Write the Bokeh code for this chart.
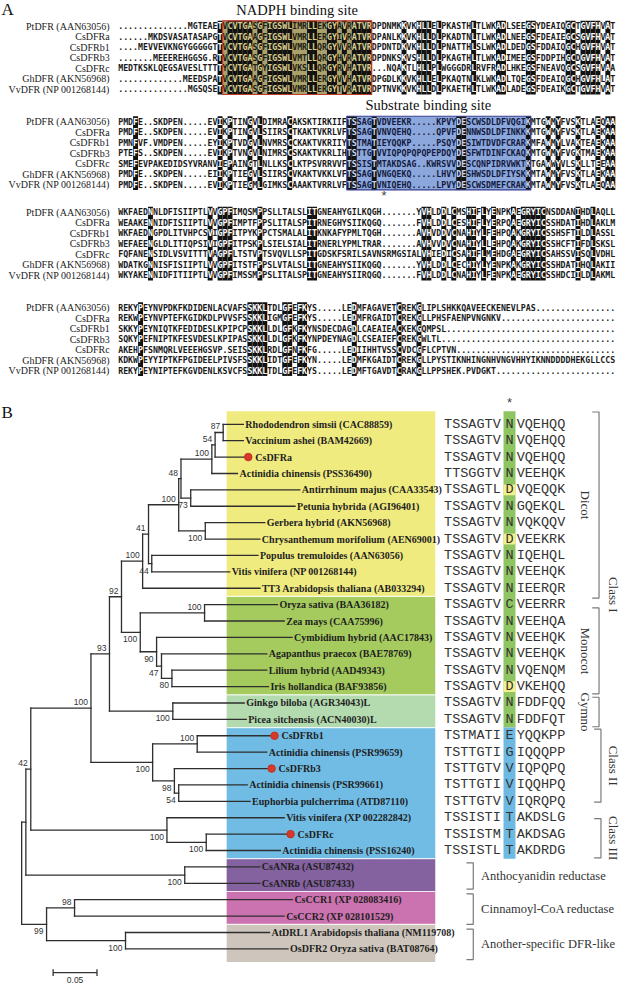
import math
from bokeh.plotting import figure
from bokeh.models import Range1d
from bokeh.core.properties import value
from bokeh.embed import file_html
from bokeh.resources import INLINE

# ===================== Panel A data: DFR alignment =====================
seq_names = ["PtDFR (AAN63056)", "CsDFRa", "CsDFRb1", "CsDFRb3", "CsDFRc",
             "GhDFR (AKN56968)", "VvDFR (NP 001268144)"]

block1 = [
    "..............MGTEAETVCVTGASGFIGSWLIMRLLEKGYAVRATVRDPDNMKKVKHLLELPKASTHLTLWKADLSEEGSYDEAIQGCTGVFHVAT",
    "......MKDSVASATASAPGTVCVTGAAGFIGSWLVMRLLERGYIVRATVRDPANLKKVKHLLDLPKADTNLTLWKADLNEEGSFDEAIEGCSGVFHVAT",
    "....MEVVEVKNGYGGGGGTTVCVTGASGFIGSWLVMRLLQRGYVVRATVRDPDNTDKVKHLLDLPNATTHLSLWKADLDEDGSFDDAIQGCHGVFHVAT",
    ".......MEEEREHGGSG.RTVCVTGASGFIGSWLVMTLLQRGYHVRATVRDPDNKSKVSHLLDLPKAGTHLTLWKADIMEEGSFDDPIHGCDGVFHVAT",
    "MEDTKSKLQEGSAVESLTTTTYCVTGATGYIGSWLVKSLLQRGYRVHATVR...NQAKTLHLLPLWGGGDRLRVFRADLHKEGSFNEAVQGCSGVFHVAA",
    ".............MEEDSPATVCVTGAAGFIGSWLVMRLLERGYVVHATVRDPGDLKKVKHLLELPKAQTNLKLWKADLTQEGSFDEAIQGCHGVFHLAT",
    "..............MGSQSETVCVTGASGFIGSWLVMRLLERGYTVRATVRDPTNVKKVKHLLDLPKAETHLTLWKADLADEGSFDEAIKGCTGVFHVAT",
]
block2 = [
    "PMDFE..SKDPEN.....EVIKPTINGVLDIMRACAKS" + "KTIRKIIFTSSAGTVDVEEKR.....KPVYDESCWSDLDFVQGIKMTGWMYFVSKTLAEQAA",
    "PMDFE..SKDPEN.....EVIKPTINGVLSIIRSCTKA" + "KTVKRLVFTSSAGTVNVQEHQ.....QPVFDENNWSDLDFINKKKMTGWMYFVSKTLAEKAA",
    "PMNFVF.VMDPEN.....EYIKPTVDGVLNVMRSCCKA" + "KTVKRIIYTSTMATIEYQQKP.....PSQYDESIWTDVDFCRARKMFAWMYLVAKTEAEKAA",
    "PTEFS..SKDPEN.....EVIKPTVNGVLNIMRSCSKA" + "KTVKRLIHTSTTGTVVIQPQPQPQPEPDQYDESFWTDINFCKAQKMTGWMYFVGKTMAEKAA",
    "SMEFEVPAKEDIDSYVRANVIEPAINGTLNLLKSCLKT" + "PSVRRVVFTSSISTMTAKDSAG..KWRSVVDESCQNPIDRVWKTKTGAWWYVLSKLLTEEAA",
    "PMDFE..SKDPEN.....EIIKPTIEGVLSIIRSCVKA" + "KTVKKLVFTSSAGTVNGQEKQ.....LHVYDESHWSDLDFIYSKKMTAWMYFVSKTLAEKAA",
    "PMDFE..SKDPEN.....EVIKPTIEGMLGIMKSCAAA" + "KTVRRLVFTSSAGTVNIQEHQ.....LPVYDESCWSDMEFCRAKKMTAWMYFVSKTLAEQAA",
]
block3 = [
    "WKFAEDNNLDFISIIPTLVVGPFIMQSMPPSLLTALSL" + "ITGNEAHYGILKQGH.......YVHLDDLCMSHIFLYENPKAEGRYICNSDDANIHDLAQLL",
    "WEAAKENNIDFISIIPTLVVGPFIMPTFPPSLITALSP" + "ITRNEGHYSIIKQGQ.......FVHLDDLCESHIFLYERPQAEGRYICSSHDATIHDLAKLM",
    "WKFAEDNGPDLITVHPCSVIGPFITPYKPPCTSMALAL" + "ITKNKAFYPMLTQGH.......AVHVDDVCNAHIYLFEHPQAKGRYICSSHSFTILDLASSL",
    "WEFAEENGLDLITIQPSIVIGPFITPSKPLSIELSIAL" + "ITRNERLYPMLTRAR.......AVHVVDVCNAHIYLLEHPQAKGRYICSSHCFTIFDLSKSL",
    "FQFANENSIDLVSVITTTVAGPFLTSTVPTSVQVLLSP" + "ITGDSKFSRILSAVNSRMGSIALVHIEDICSAHIFLMEHDGAEGRYICSAHSSVISQLVDHL",
    "WDATKGNNISFISIIPTLVVGPFITSTFPPSLVTALSL" + "ITGNEAHYSIIKQGQ.......YVHLDDLCECHIYLYENPKAKGRYICSSHDATIHQLAKII",
    "WKYAKENNIDFITIIPTLVVGPFIMSSMPPSLITALSP" + "ITGNEAHYSIIRQGQ.......FVHLDDLCNAHIYLFENPKAEGRYICSSHDCIILDLAKML",
]
block4 = [
    "REKYPEYNVPDKFKDIDENLACVAFSSKKLTDLGFEFKYS.....LEDMFAGAVETCREKGLIPLSHKKQAVEECKENEVLPAS",
    "REKWPEYNVPTEFKGIDKDLPVVSFSSKKLIGMGFEFKYS.....LEDMFRGAIDTCREKGLLPHSFAENPVNGNKV",
    "SKKYPEYNIQTKFEDIDESLKPIPCPSKKLLDLGFKFKYNSDECDAGDLCAEAIEACKEKGQMPSL",
    "SQKYPEFNIPTKFESVDESLKPIPASSKKLLDLGFKFKYNPDEYNAGDLCSEAIEFCREKGWLTL",
    "AKEHPFSNMQRLVEEEHGSVP.SEISSKKLRDLGFNFKFG.....LEDIIHHTVSSCVDCGFLCPTVN",
    "KDKWPEYYIPTKFPGIDEELPIVSFSSKKLIDTGFEFKYN.....LEDMFKGAIDTCREKGLLPYSTIKNHINGNHVNGVHHYIKNNDDDDHEKGLLCCS",
    "REKYPEYNIPTEFKGVDENLKSVCFSSKKLTDLGFEFKYS.....LEDMFTGAVDTCRAKGLLPPSHEK.PVDGKT",
]
nadph_cols = (21, 50)        # NADPH binding site, block 1
substrate_cols = (46, 82)    # Substrate binding site, block 2
asterisk_col = 53

# ===================== Panel B data: phylogenetic tree =====================
leaf_labels = [
    "Rhododendron simsii (CAC88859)", "Vaccinium ashei (BAM42669)", "CsDFRa",
    "Actinidia chinensis (PSS36490)", "Antirrhinum majus (CAA33543)",
    "Petunia hybrida (AGI96401)", "Gerbera hybrid (AKN56968)",
    "Chrysanthemum morifolium (AEN69001)", "Populus tremuloides (AAN63056)",
    "Vitis vinifera (NP 001268144)", "TT3 Arabidopsis thaliana (AB033294)",
    "Oryza sativa (BAA36182)", "Zea mays (CAA75996)", "Cymbidium hybrid (AAC17843)",
    "Agapanthus praecox (BAE78769)", "Lilium hybrid (AAD49343)",
    "Iris hollandica (BAF93856)", "Ginkgo biloba (AGR34043)L",
    "Picea sitchensis (ACN40030)L", "CsDFRb1", "Actinidia chinensis (PSR99659)",
    "CsDFRb3", "Actinidia chinensis (PSR99661)", "Euphorbia pulcherrima (ATD87110)",
    "Vitis vinifera (XP 002282842)", "CsDFRc", "Actinidia chinensis (PSS16240)",
    "CsANRa (ASU87432)", "CsANRb (ASU87433)", "CsCCR1 (XP 028083416)",
    "CsCCR2 (XP 028101529)", "AtDRL1 Arabidopsis thaliana (NM119708)",
    "OsDFR2 Oryza sativa (BAT08764)",
]
tea_leaves = [2, 19, 21, 25]

def N(support, side, bl, *kids):
    return {"s": support, "side": side, "bl": bl, "kids": list(kids)}

def L(i, bl):
    return {"leaf": i, "s": None, "bl": bl, "kids": []}

tree = N(None, None, 0.0,
  N(None, None, 0.0048,
    N(42, "a", 0.0056,
      N(100, "a", 0.0686,
        N(93, "a", 0.0211,
          N(92, "a", 0.0137,
            N(100, "a", 0.0241,
              N(41, "a", 0.0067,
                N(100, "a", 0.0344,
                  N(48, "a", 0.0026,
                    N(100, "a", 0.0352,
                      N(54, "a", 0.0037,
                        N(87, "a", 0.0092, L(0, 0.0230), L(1, 0.0230)),
                        L(2, 0.0378)),
                      L(3, 0.0292)),
                    N(73, "b", 0.0111, L(4, 0.1244), L(5, 0.1189))),
                  N(100, "b", 0.0303, L(6, 0.0678), L(7, 0.0622))),
                N(44, "b", 0.0037, L(8, 0.1211), L(9, 0.0889))),
              L(10, 0.1337)),
            N(100, "b", 0.0214,
              N(100, "a", 0.0733, L(11, 0.0830), L(12, 0.0908)),
              N(90, "b", 0.0186,
                L(13, 0.1544),
                N(47, "b", 0.0056,
                  L(14, 0.1200),
                  N(80, "b", 0.0119, L(15, 0.1081), L(16, 0.1100)))))),
          N(100, "b", 0.0722, L(17, 0.0814), L(18, 0.0837))),
        N(100, "b", 0.0703,
          N(100, "a", 0.0508, L(19, 0.0881), L(20, 0.0792)),
          N(98, "b", 0.0248,
            L(21, 0.1108),
            N(54, "b", 0.0049, L(22, 0.0781), L(23, 0.0814))))),
      N(100, "b", 0.1552,
        L(24, 0.1337),
        N(100, "b", 0.0448, L(25, 0.0961), L(26, 0.0844)))),
    N(100, "b", 0.1811, L(27, 0.0856), L(28, 0.0856))),
  N(99, "b", 0.0284,
    N(98, "a", 0.0319, L(29, 0.2483), L(30, 0.2389)),
    N(100, "b", 0.0900, L(31, 0.1641), L(32, 0.1852))))

scale_bar_length = 0.05

band_first = [0, 11, 17, 19, 27, 29, 31]
band_last = [10, 16, 18, 26, 28, 30, 32]
band_colors = ["#f0eb7f", "#a5cb5f", "#b4dbb0", "#70bce4", "#84619f", "#cb73b0", "#cec6bc"]

motif_left = ["TSSAGTV", "TSSAGTV", "TSSAGTV", "TTSGGTV", "TSSAGTL", "TSSAGTV", "TSSAGTV",
              "TSSAGTV", "TSSAGTV", "TSSAGTV", "TSSAGTV", "TSSAGTV", "TSSAGTV", "TSSAGTV",
              "TSSAGTV", "TSSAGTV", "TSSAGTV", "TSSAGTV", "TSSAGTV", "TSTMATI", "TSTTGTI",
              "TSTTGTV", "TSTTGTI", "TSTTGTV", "TSSISTI", "TSSISTM", "TSSISTL"]
motif_key = ["N", "N", "N", "N", "D", "N", "N", "D", "N", "N", "N", "C", "N", "N",
             "N", "N", "D", "N", "N", "E", "G", "V", "V", "V", "T", "T", "T"]
motif_right = ["VQEHQQ", "VQEHQQ", "VQEHQQ", "VEEHQK", "VQEQQK", "GQEKQL", "VQKQQV",
               "VEEKRK", "IQEHQL", "VEEHQK", "IEERQR", "VEERRR", "VEEHQA", "VEEHQK",
               "VEEHQK", "VQENQM", "VKEHQQ", "FDDFQQ", "FDDFQT", "YQQKPP", "IQQQPP",
               "IQPQPQ", "IQQHPQ", "IQRQPQ", "AKDSLG", "AKDSAG", "AKDRDG"]

group_names = ["Dicot", "Monocot", "Gymno", "Class II", "Class III",
               "Anthocyanidin reductase", "Cinnamoyl-CoA reductase", "Another-specific DFR-like"]

# ===================== layout =====================
PAGE_W, PAGE_H = 619, 983
REF_W, REF_H = 635, 999
SEQ_X0, COL_W = 120.7, 5.1
BLOCK_Y = [26, 123, 215, 312]
ROW_H = 10.7
TREE_X0, PX_PER_UNIT = 21.7, 900.0
LEAF_Y0, LEAF_H = 430.7, 16.66
SX = PAGE_W / REF_W

p = figure(width=PAGE_W, height=PAGE_H, x_range=Range1d(0, REF_W), y_range=Range1d(REF_H, 0),
           x_axis_location=None, y_axis_location=None, output_backend="svg",
           toolbar_location=None, min_border=0)
p.outline_line_color = None
p.background_fill_color = "white"
p.border_fill_color = "white"
p.xgrid.visible = False
p.ygrid.visible = False
p.extra_x_ranges = {
    "col": Range1d((0 - SEQ_X0) / COL_W, (REF_W - SEQ_X0) / COL_W),
    "tree": Range1d((0 - TREE_X0) / PX_PER_UNIT, (REF_W - TREE_X0) / PX_PER_UNIT),
}
p.extra_y_ranges = {"leaf": Range1d((REF_H - LEAF_Y0) / LEAF_H, (0 - LEAF_Y0) / LEAF_H)}

serif = value("Liberation Serif")
sans = value("Liberation Sans")
mono = value("DejaVu Sans Mono")
seq_fs = "%.3fpx" % (COL_W * SX / 0.60205)

# ---------------- Panel A ----------------
p.text(x=[1], y=[9], text=["A"], text_font=serif, text_font_size="17px",
       text_color="#111", text_baseline="middle", text_align="left")

blocks = [block1, block2, block3, block4]
boxes = {0: (nadph_cols, "nadph"), 1: (substrate_cols, "sub")}
for b, blk in enumerate(blocks):
    rows = [(s + "." * 100)[:100] for s in blk]
    ncol = 100
    ys = [BLOCK_Y[b] + r * ROW_H for r in range(len(rows))]
    top, bot = ys[0] - ROW_H / 2, ys[-1] + ROW_H / 2
    ident = [len(set(r[c] for r in rows)) == 1 and rows[0][c] != "." for c in range(ncol)]
    box = boxes.get(b)
    if box:
        (c0, c1), kind = box
        p.quad(left=[c0], right=[c1 + 1], top=[top], bottom=[bot],
               fill_color="#aaa16c" if kind == "nadph" else "#8ba7dc",
               line_color=None, x_range_name="col")
    ic = [c for c in range(ncol) if ident[c]]
    p.quad(left=ic, right=[c + 1 for c in ic], top=[top] * len(ic), bottom=[bot] * len(ic),
           fill_color="#121212", line_color=None, x_range_name="col")

    def colour(c):
        inb = box is not None and box[0][0] <= c <= box[0][1]
        if inb and box[1] == "nadph":
            return "#dccf90" if ident[c] else "#1f1d10"
        if inb:
            return "#c9d5f2" if ident[c] else "#141a40"
        return "#ffffff" if ident[c] else "#1a1a1a"

    tx, ty, tt, tc = [], [], [], []
    for r, s in enumerate(rows):
        start = 0
        for c in range(1, ncol + 1):
            if c == ncol or colour(c) != colour(start):
                tx.append(start); ty.append(ys[r]); tt.append(s[start:c]); tc.append(colour(start))
                start = c
    p.text(x=tx, y=ty, text=tt, text_color=tc, text_font=mono, text_font_size=seq_fs,
           text_font_style="bold", text_align="left", text_baseline="middle", x_range_name="col")
    p.text(x=[112] * len(ys), y=ys, text=seq_names, text_font=serif, text_font_size="10px",
           text_color="#222", text_align="right", text_baseline="middle")
    if box:
        (c0, c1), kind = box
        p.quad(left=[c0], right=[c1 + 1], top=[top], bottom=[bot], fill_color=None,
               line_color="#c0392b" if kind == "nadph" else "#3b3f8f", line_width=1.2,
               x_range_name="col")
        title = "NADPH binding site" if kind == "nadph" else "Substrate binding site"
        tx_c = (c0 + c1 + 1) / 2 if kind == "nadph" else (c0 + c1 + 1) / 2 - 2.1
        p.text(x=[tx_c], y=[top - 11.5], text=[title], text_font=serif, text_font_size="14.5px",
               text_color="#111", text_align="center", text_baseline="middle", x_range_name="col")
        if kind == "sub":
            p.text(x=[asterisk_col + 0.5], y=[bot + 6], text=["*"], text_font=sans,
                   text_font_size="13px", text_color="#444", text_align="center",
                   text_baseline="middle", x_range_name="col")

# ---------------- Panel B ----------------
p.text(x=[1], y=[419], text=["B"], text_font=serif, text_font_size="17px",
       text_color="#111", text_baseline="middle", text_align="left")

BAND_X0, BAND_X1 = 232, 446
for i, (f, l, col) in enumerate(zip(band_first, band_last, band_colors)):
    t = f - 0.8 if i == 0 else f - 0.5
    bt = l + 0.8 if i == len(band_first) - 1 else l + 0.5
    p.quad(left=[BAND_X0], right=[BAND_X1], top=[t], bottom=[bt], fill_color=col,
           line_color=None, y_range_name="leaf")
sep_y = [l + 0.5 for l in band_last[:-1]]
p.multi_line(xs=[[BAND_X0, BAND_X1]] * len(sep_y), ys=[[y, y] for y in sep_y],
             line_color="white", line_width=1.2, line_alpha=0.8, y_range_name="leaf")

def lay(n, d):
    n["x"] = d + n["bl"]
    if n["kids"]:
        for k in n["kids"]:
            lay(k, n["x"])
        n["y"] = (n["kids"][0]["y"] + n["kids"][-1]["y"]) / 2
    else:
        n["y"] = n["leaf"]

lay(tree, 0.0)
seg_x, seg_y = [], []
sup = {"x": [], "y": [], "t": [], "off": []}
leaf_x = {}

def walk(n):
    if not n["kids"]:
        leaf_x[n["leaf"]] = n["x"]
        return
    seg_x.append([n["x"], n["x"]]); seg_y.append([n["kids"][0]["y"], n["kids"][-1]["y"]])
    for k in n["kids"]:
        seg_x.append([n["x"], k["x"]]); seg_y.append([k["y"], k["y"]])
        walk(k)
    if n["s"] is not None:
        sup["x"].append(n["x"]); sup["y"].append(n["y"]); sup["t"].append(str(n["s"]))
        sup["off"].append(-6 if n["side"] == "a" else 7)

walk(tree)
p.multi_line(xs=seg_x, ys=seg_y, line_color="#2e2e2e", line_width=1.3, line_cap="square",
             x_range_name="tree", y_range_name="leaf")
p.text(x=sup["x"], y=sup["y"], text=sup["t"], y_offset=sup["off"], x_offset=-3,
       text_font=sans, text_font_size="8.5px", text_color="#333", text_align="right",
       text_baseline="middle", x_range_name="tree", y_range_name="leaf")

li = list(range(len(leaf_labels)))
p.text(x=[leaf_x[i] for i in li], y=li, text=leaf_labels,
       x_offset=[7 if i in tea_leaves else 2 for i in li],
       text_font=serif, text_font_style="bold", text_font_size="10px", text_color="#1e1e1e",
       text_align="left", text_baseline="middle", x_range_name="tree", y_range_name="leaf")
p.scatter(x=[leaf_x[i] for i in tea_leaves], y=tea_leaves, size=7.5, fill_color="#d6392c",
          line_color="#c2301f", x_range_name="tree", y_range_name="leaf")

# scale bar
sb0 = (54 - TREE_X0) / PX_PER_UNIT
sby = 33.45
p.multi_line(xs=[[sb0, sb0 + scale_bar_length], [sb0, sb0], [sb0 + scale_bar_length] * 2],
             ys=[[sby, sby], [sby - 0.2, sby + 0.2], [sby - 0.2, sby + 0.2]],
             line_color="#333", line_width=1.3, x_range_name="tree", y_range_name="leaf")
p.text(x=[sb0 + scale_bar_length / 2], y=[sby], text=["%.2f" % scale_bar_length], y_offset=[7],
       text_font=sans, text_font_size="8.5px", text_color="#333", text_align="center",
       text_baseline="middle", x_range_name="tree", y_range_name="leaf")

# key residue column
n_dfr = len(motif_key)
KEY_L, KEY_R = 516, 528.3
key_c = (KEY_L + KEY_R) / 2
p.quad(left=[KEY_L, KEY_L], right=[KEY_R, KEY_R], top=[-0.8, band_first[3] - 0.5],
       bottom=[band_first[3] - 0.5, n_dfr - 0.5], fill_color=["#8fc462", "#6db9e2"],
       line_color=None, y_range_name="leaf")
dr = [i for i in range(n_dfr) if motif_key[i] == "D"]
p.quad(left=[KEY_L] * len(dr), right=[KEY_R] * len(dr), top=[i - 0.33 for i in dr],
       bottom=[i + 0.33 for i in dr], fill_color="#f4f08c", line_color=None, y_range_name="leaf")
rows_i = list(range(n_dfr))
mono2 = value("Liberation Mono")
p.text(x=[455] * n_dfr, y=rows_i, text=motif_left, text_font=mono2, text_font_size="13.5px",
       text_color="#333", text_align="left", text_baseline="middle", y_range_name="leaf")
p.text(x=[key_c] * n_dfr, y=rows_i, text=motif_key, text_font=mono2, text_font_size="13.5px",
       text_color="#333", text_align="center", text_baseline="middle", y_range_name="leaf")
p.text(x=[529.5] * n_dfr, y=rows_i, text=motif_right, text_font=mono2, text_font_size="13.5px",
       text_color="#333", text_align="left", text_baseline="middle", y_range_name="leaf")
p.text(x=[key_c], y=[-1.3], text=["*"], text_font=sans, text_font_size="13px",
       text_color="#444", text_align="center", text_baseline="middle", y_range_name="leaf")

# brackets and group labels
br_x = [614, 614, 614, 616, 616, 485, 485, 485]
br_top = [-0.75, 11.2, 16.65, 18.6, 24.05, 26.75, 28.65, 30.8]
br_bot = [10.6, 16.45, 18.45, 23.05, 26.45, 28.35, 30.5, 32.65]
bxs, bys = [], []
for x, t, b_ in zip(br_x, br_top, br_bot):
    bxs.append([x - 7, x, x, x - 7]); bys.append([t, t, b_, b_])
p.multi_line(xs=bxs, ys=bys, line_color="#7a7a7a", line_width=1.2, y_range_name="leaf")

rot_x = [600, 600, 600, 629, 629, 629]
rot_y = [(br_top[0] + br_bot[0]) / 2, (br_top[1] + br_bot[1]) / 2, (br_top[2] + br_bot[2]) / 2,
         10.4, (br_top[3] + br_bot[3]) / 2, (br_top[4] + br_bot[4]) / 2]
rot_t = [group_names[0], group_names[1], group_names[2], "Class I", group_names[3], group_names[4]]
p.text(x=rot_x, y=rot_y, text=rot_t, angle=-math.pi / 2, text_font=serif, text_font_size="13px",
       text_color="#333", text_align="center", text_baseline="middle", y_range_name="leaf")
p.text(x=[493] * 3, y=[(br_top[k] + br_bot[k]) / 2 for k in (5, 6, 7)], text=group_names[5:],
       text_font=serif, text_font_size="12.5px", text_color="#333", text_align="left",
       text_baseline="middle", y_range_name="leaf")

open("out.html", "w").write(file_html(p, INLINE))
